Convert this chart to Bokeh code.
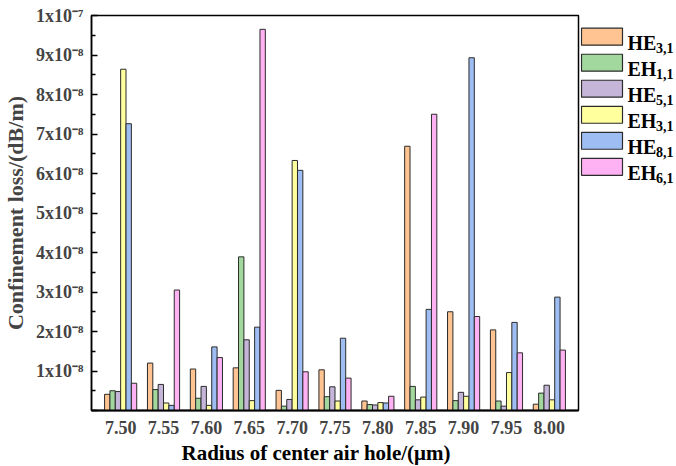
from bokeh.plotting import figure
from bokeh.layouts import row
from bokeh.models import ColumnDataSource, FactorRange, Range1d, FixedTicker, Title
from bokeh.transform import dodge
from bokeh.core.properties import value
from bokeh.embed import file_html
from bokeh.resources import INLINE

# Radius of the center air hole (um)
radii = ["7.50", "7.55", "7.60", "7.65", "7.70", "7.75", "7.80", "7.85", "7.90", "7.95", "8.00"]

# Confinement loss per mode, in units of 1e-8 dB/m
he31 = [0.41, 1.20, 1.05, 1.08, 0.51, 1.03, 0.24, 6.69, 2.50, 2.04, 0.16]
eh11 = [0.50, 0.53, 0.31, 3.89, 0.11, 0.35, 0.15, 0.61, 0.25, 0.24, 0.44]
he51 = [0.48, 0.66, 0.61, 1.79, 0.28, 0.60, 0.14, 0.27, 0.46, 0.11, 0.64]
eh31 = [8.64, 0.19, 0.13, 0.25, 6.33, 0.24, 0.20, 0.34, 0.36, 0.96, 0.27]
he81 = [7.26, 0.13, 1.61, 2.11, 6.08, 1.83, 0.19, 2.56, 8.93, 2.23, 2.87]
eh61 = [0.69, 3.05, 1.34, 9.65, 0.98, 0.82, 0.36, 7.50, 2.38, 1.46, 1.53]

mode_names = [("HE", "3,1"), ("EH", "1,1"), ("HE", "5,1"), ("EH", "3,1"), ("HE", "8,1"), ("EH", "6,1")]
series = [he31, eh11, he51, eh31, he81, eh61]
colors = ["#FFC491", "#A2D89D", "#C5B5D9", "#FFFF9E", "#9EBEF3", "#FFB2F3"]

# y tick labels: 1x10^-8 ... 1x10^-7
y_ticks = list(range(0, 11))
y_tick_labels = {0: ""}
for k in range(1, 10):
    y_tick_labels[k] = f"{k}x10\u207b\u2078"
y_tick_labels[10] = "1x10\u207b\u2077"

FONT = "Liberation Serif"

data = {"radius": radii}
keys = []
for i, s in enumerate(series):
    key = f"m{i}"
    keys.append(key)
    data[key] = s
src = ColumnDataSource(data)

p = figure(
    x_range=FactorRange(*radii, range_padding=0.18, range_padding_units="absolute"),
    y_range=Range1d(0, 10),
    width=580, height=466,
    min_border_left=86, min_border_right=2, min_border_top=15, min_border_bottom=54,
    output_backend="svg", toolbar_location=None,
)

bar_w = 0.125
for i, key in enumerate(keys):
    off = -0.3125 + i * bar_w
    p.vbar(x=dodge("radius", off, range=p.x_range), top=key, bottom=0, width=bar_w,
           source=src, fill_color=colors[i], line_color="#2b2b2b", line_width=1)

p.xgrid.visible = False
p.ygrid.visible = False
p.outline_line_color = "black"
p.outline_line_width = 1.5
p.background_fill_color = "white"
p.border_fill_color = "white"

# y axis
ya = p.yaxis[0]
ya.ticker = FixedTicker(ticks=y_ticks, minor_ticks=[k + 0.5 for k in range(10)])
ya.major_label_overrides = y_tick_labels
ya.major_tick_in = 6
ya.major_tick_out = 0
ya.minor_tick_in = 4
ya.minor_tick_out = 0
ya.major_tick_line_width = 1.5
ya.minor_tick_line_width = 1.5
ya.axis_line_width = 1.5
ya.major_label_text_font = FONT
ya.major_label_text_font_style = "bold"
ya.major_label_text_font_size = "18px"
ya.major_label_standoff = 8
ya.axis_label = "Confinement loss/(dB/m)"
ya.axis_label_text_font = FONT
ya.axis_label_text_font_style = "bold"
ya.axis_label_text_font_size = "22px"
ya.axis_label_standoff = 5

# x axis
xa = p.xaxis[0]
xa.major_tick_line_color = None
xa.minor_tick_line_color = None
xa.major_tick_in = 0
xa.major_tick_out = 0
xa.axis_line_width = 2
xa.major_label_text_font = FONT
xa.major_label_text_font_style = "bold"
xa.major_label_text_font_size = "18px"
xa.major_label_standoff = 10

# x axis title, placed as a title below the axis
p.add_layout(Title(
    text="Radius of center air hole/(\u03bcm)", align="left", offset=90, standoff=4,
    text_font=FONT, text_font_style="bold", text_font_size="21px", text_color="black",
), "below")

# Legend panel drawn in pixel coordinates
lg = figure(
    x_range=Range1d(0, 96), y_range=Range1d(466, 0),
    width=96, height=466,
    min_border_left=0, min_border_right=0, min_border_top=0, min_border_bottom=0,
    output_backend="svg", toolbar_location=None,
)
lg.axis.visible = False
lg.xgrid.visible = False
lg.ygrid.visible = False
lg.outline_line_color = None
lg.background_fill_color = "white"
lg.border_fill_color = "white"

step = 30.7
tops = [15 + step * i for i in range(len(mode_names))]
lg.quad(left=[1] * len(tops), right=[42] * len(tops), top=tops, bottom=[t + 20 for t in tops],
        fill_color=colors, line_color="#2b2b2b", line_width=1.2)
lg.text(x=[47] * len(tops), y=[t + 17 for t in tops], text=[m[0] for m in mode_names],
        text_font=value(FONT), text_font_style="bold", text_font_size="20px",
        text_baseline="alphabetic", text_align="left", text_color="black")
lg.text(x=[75.5] * len(tops), y=[t + 23 for t in tops], text=[m[1] for m in mode_names],
        text_font=value(FONT), text_font_style="bold", text_font_size="14px",
        text_baseline="alphabetic", text_align="left", text_color="black")

layout = row(p, lg, spacing=0)
open("out.html", "w").write(file_html(layout, INLINE))
